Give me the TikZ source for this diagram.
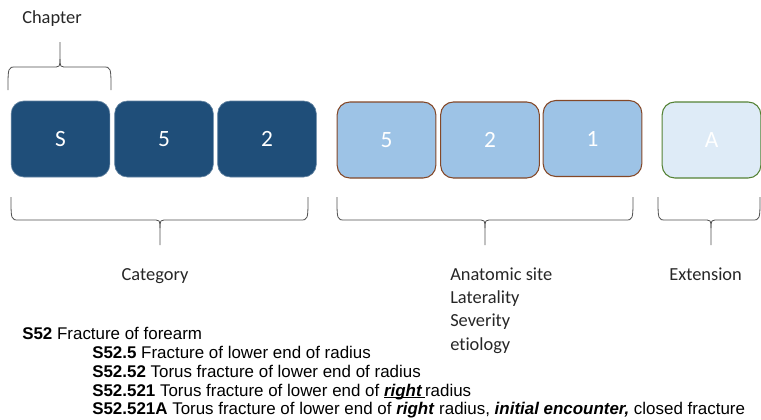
\documentclass[tikz,border=0pt]{standalone}
\usepackage{fontspec}
\setmainfont[Ligatures=NoCommon]{Carlito}
\newfontfamily\narrowfont{Liberation Sans}
\definecolor{darkbox}{RGB}{31,78,121}
\definecolor{midbox}{RGB}{157,195,230}
\definecolor{midedge}{RGB}{132,72,40}
\definecolor{lightbox}{RGB}{222,235,247}
\definecolor{lightedge}{RGB}{84,130,53}
\definecolor{bracegray}{RGB}{80,80,80}
\newcommand{\ulword}[1]{\setbox0\hbox{#1}\rlap{\rule[-1.6pt]{\wd0}{0.8pt}}#1}
\begin{document}
\begin{tikzpicture}[x=0.75pt,y=-0.75pt,
  codebox/.style={rounded corners=9.5pt, minimum width=74pt, minimum height=57pt, inner sep=0pt,
    text=white, font=\fontsize{17.5}{20}\selectfont},
  catbox/.style={codebox, fill=darkbox, draw=darkbox!70!white, line width=0.5pt},
  sitebox/.style={codebox, fill=midbox, draw=midedge, line width=0.8pt},
  extbox/.style={codebox, fill=lightbox, draw=lightedge, line width=0.8pt},
  lbl/.style={anchor=base west, inner sep=0pt, font=\fontsize{13.8}{16}\selectfont, text=black!85},
  code/.style={anchor=base west, inner sep=0pt, font=\narrowfont\fontsize{12.7}{14}\selectfont},
  bracepath/.style={draw=bracegray, line width=0.6pt}
]
\useasboundingbox (0,0) rectangle (761,419);

% boxes
\node[catbox] (b1) at (60.5,139) {S};
\node[catbox] (b2) at (164,139) {5};
\node[catbox] (b3) at (267,139) {2};
\node[sitebox] (b4) at (386.5,140) {5};
\node[sitebox] (b5) at (490,140) {2};
\node[sitebox] (b6) at (592.5,138.5) {1};
\node[extbox] (b7) at (711.5,140) {A};

% chapter brace (tip up)
\path[bracepath] (8,90) .. controls (8,67) .. (16,67) -- (52,67) .. controls (60,67) .. (60,59) -- (60,42);
\path[bracepath] (60,59) .. controls (60,67) .. (68,67) -- (103,67) .. controls (111,67) .. (111,90);

% category brace
\path[bracepath] (11,197) .. controls (11,220) .. (19,220) -- (152,220) .. controls (160,220) .. (160,228) -- (160,245);
\path[bracepath] (160,228) .. controls (160,220) .. (168,220) -- (300,220) .. controls (308,220) .. (308,197);

% site brace
\path[bracepath] (337,197) .. controls (337,220) .. (345,220) -- (477,220) .. controls (485,220) .. (485,228) -- (485,245);
\path[bracepath] (485,228) .. controls (485,220) .. (493,220) -- (625,220) .. controls (633,220) .. (633,197);

% extension brace
\path[bracepath] (658,197) .. controls (658,220) .. (666,220) -- (703,220) .. controls (711,220) .. (711,228) -- (711,245);
\path[bracepath] (711,228) .. controls (711,220) .. (719,220) -- (752,220) .. controls (760,220) .. (760,197);

% labels
\node[lbl] (chap) at (22,23) {Chapter};
\node[lbl, anchor=base] (cat) at (155,280) {Category};
\node[lbl] (site1) at (450,280) {Anatomic site};
\node[lbl] (site2) at (450,303.3) {Laterality};
\node[lbl] (site3) at (450,326.6) {Severity};
\node[lbl] (site4) at (450,350) {etiology};
\node[lbl] (ext) at (669,280) {Extension};

% code listing
\node[code] (c1) at (22,339) {\textbf{S52} Fracture of forearm};
\node[code] (c2) at (92,358) {\textbf{S52.5} Fracture of lower end of radius};
\node[code] (c3) at (92,377) {\textbf{S52.52} Torus fracture of lower end of radius};
\node[code] (c4) at (92,396) {\textbf{S52.521} Torus fracture of lower end of \ulword{\textbf{\textit{right}}\,}radius};
\node[code] (c5) at (92,414) {\textbf{S52.521A} Torus fracture of lower end of \textbf{\textit{right}} radius, \textbf{\textit{initial encounter,}} closed fracture};
\end{tikzpicture}
\end{document}
